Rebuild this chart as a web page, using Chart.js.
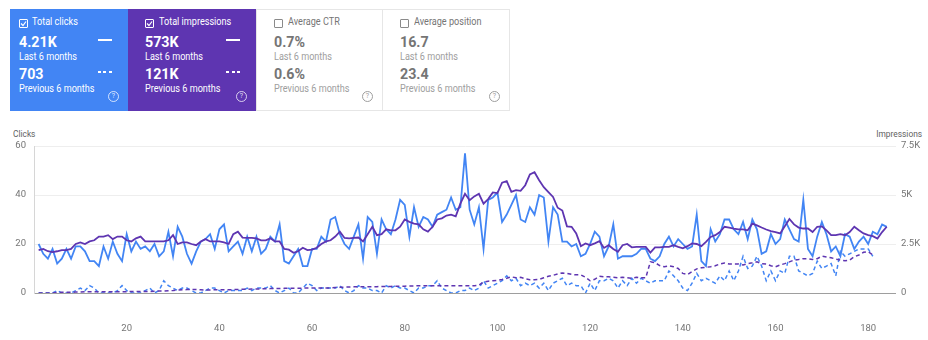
<!DOCTYPE html>
<html>
<head>
<meta charset="utf-8">
<script src="https://cdn.jsdelivr.net/npm/chart.js@4"></script>
<style>
    html, body { margin: 0; padding: 0; background: #fff; }
    body { width: 928px; height: 340px; position: relative; overflow: hidden; font-family: Roboto, "Noto Sans", sans-serif; }
    .card { position: absolute; top: 9px; height: 102px; box-sizing: border-box; }
    .card.off { background: #fff; border: 1px solid #e6e6e6; }
    .card > div { position: absolute; white-space: nowrap; }
    .cb { left: 9px; top: 10px; width: 7px; height: 7px; border: 1px solid #fff; border-radius: 1px; }
    .cb svg { position: absolute; left: 0; top: 0; }
    .off .cb { border-color: #8a8a8a; top: 9px; }
    .lbl { left: 22px; top: 7px; font-size: 10px; line-height: 12px; transform: scaleX(0.91); transform-origin: left center; }
    .val { left: 9px; font-size: 15px; line-height: 15px; font-weight: 700; transform: scaleX(0.95); transform-origin: left center; }
    .sub { left: 9px; font-size: 10px; line-height: 12px; transform: scaleX(0.91); transform-origin: left center; }
    .wide .cb { left: 17px; }
    .wide .lbl { left: 31px; }
    .wide .val, .wide .sub { left: 17px; }
    .off .lbl { top: 6px; }
    .off .val, .off .sub { margin-top: -1px; }
    .v1 { top: 26px; } .s1 { top: 42px; } .v2 { top: 58px; } .s2 { top: 74px; }
    .ln { right: 16px; width: 14px; height: 2px; }
    .ln.solid { top: 30px; background: #fff; }
    .ln.dash { top: 62px; background: repeating-linear-gradient(to right, #fff 0 3px, transparent 3px 5.5px); }
    .help { right: 9px; top: 82px; width: 9px; height: 9px; border: 1px solid rgba(255,255,255,0.75); border-radius: 50%;
            font-size: 7px; line-height: 9px; text-align: center; color: rgba(255,255,255,0.85); }
    .off .lbl { color: #757575; }
    .off .val { color: #757575; }
    .off .sub { color: #9e9e9e; }
    .off .help { border-color: #9e9e9e; color: #9e9e9e; top: 81px; }
    .on { color: #fff; }
    .axis-title { position: absolute; top: 128px; font-size: 9.5px; line-height: 11px; color: #616161; transform: scaleX(0.88); }
    #chartBox { position: absolute; left: 0; top: 120px; width: 928px; height: 220px; }
</style>
</head>
<body>
<div class="card on" style="left:10px;width:118px;background:#4285f4">
    <div class="cb"><svg width="7" height="7"><polyline points="1,3.5 3,5.5 6,1.5" fill="none" stroke="#fff" stroke-width="1.2"/></svg></div>
    <div class="lbl">Total clicks</div>
    <div class="val v1">4.21K</div>
    <div class="sub s1">Last 6 months</div>
    <div class="val v2">703</div>
    <div class="sub s2">Previous 6 months</div>
    <div class="ln solid"></div><div class="ln dash"></div>
    <div class="help">?</div>
</div>
<div class="card on wide" style="left:128px;width:128px;background:#5e35b1">
    <div class="cb"><svg width="7" height="7"><polyline points="1,3.5 3,5.5 6,1.5" fill="none" stroke="#fff" stroke-width="1.2"/></svg></div>
    <div class="lbl">Total impressions</div>
    <div class="val v1">573K</div>
    <div class="sub s1">Last 6 months</div>
    <div class="val v2">121K</div>
    <div class="sub s2">Previous 6 months</div>
    <div class="ln solid"></div><div class="ln dash"></div>
    <div class="help">?</div>
</div>
<div class="card off wide" style="left:256px;width:127px">
    <div class="cb"></div>
    <div class="lbl">Average CTR</div>
    <div class="val v1">0.7%</div>
    <div class="sub s1">Last 6 months</div>
    <div class="val v2">0.6%</div>
    <div class="sub s2">Previous 6 months</div>
    <div class="help">?</div>
</div>
<div class="card off wide" style="left:382px;width:128px">
    <div class="cb"></div>
    <div class="lbl">Average position</div>
    <div class="val v1">16.7</div>
    <div class="sub s1">Last 6 months</div>
    <div class="val v2">23.4</div>
    <div class="sub s2">Previous 6 months</div>
    <div class="help">?</div>
</div>

<div class="axis-title" style="left:13px;transform-origin:left center">Clicks</div>
<div class="axis-title" style="right:6px;transform-origin:right center">Impressions</div>

<div id="chartBox"><canvas id="perfChart"></canvas></div>

<script>
// Daily clicks, last 6 months (day 1..184)
const clicks = [
    20, 16, 14, 18, 12, 14, 18, 14, 19, 19, 17, 13, 13, 11, 19, 14, 21, 16, 13, 24,
    17, 21, 18, 19, 17, 20, 15, 17, 25, 15, 27, 23, 16, 12, 17, 21, 22, 24, 18, 26,
    28, 17, 19, 21, 16, 23, 17, 23, 16, 18, 23, 21, 28, 13, 12, 15, 18, 11, 11, 18,
    18, 23, 21, 30, 31, 24, 20, 18, 23, 28, 14, 31, 29, 16, 30, 26, 24, 30, 38, 36,
    23, 35, 27, 31, 30, 27, 32, 33, 34, 39, 34, 35, 57, 34, 28, 35, 18, 38, 39, 41,
    29, 32, 36, 40, 30, 29, 35, 32, 40, 39, 21, 35, 32, 21, 21, 19, 20, 15, 16, 20,
    25, 23, 15, 19, 28, 14, 15, 15, 15, 16, 18, 18, 14, 13, 15, 20, 23, 19, 22, 20,
    18, 19, 32, 13, 11, 26, 21, 24, 30, 30, 26, 24, 29, 22, 30, 26, 16, 17, 24, 20,
    22, 30, 26, 22, 21, 38, 18, 15, 23, 29, 24, 17, 19, 15, 24, 23, 18, 21, 23, 20,
    25, 24, 28, 27
];

// Daily impressions, last 6 months
const impressions = [
    2190, 2250, 2130, 2090, 2130, 2190, 2190, 2250, 2500, 2580, 2500, 2630, 2690, 2880, 2880, 2950, 2750, 2880, 2880, 2690,
    2630, 2790, 2880, 2630, 2630, 2630, 2630, 2630, 2690, 2950, 2500, 2580, 2580, 2500, 2440, 2630, 2750, 2630, 2630, 2630,
    2580, 2500, 3000, 3130, 2830, 2810, 2810, 2790, 2690, 2690, 2790, 2630, 2630, 2250, 2210, 2050, 2130, 2310, 2190, 2210,
    2310, 2500, 2630, 2690, 2880, 3130, 2810, 2790, 2810, 2830, 2630, 3000, 3380, 2950, 3000, 3250, 3200, 3200, 3380, 3750,
    3630, 3540, 3500, 3250, 3130, 3380, 3750, 3810, 3950, 4000, 3910, 4560, 5060, 4730, 4930, 5060, 4560, 4790, 5130, 5100,
    5630, 5710, 5160, 5250, 5210, 5500, 6050, 6160, 5750, 5400, 5150, 4900, 4350, 4210, 3400, 3380, 3040, 2390, 2530, 2440,
    2530, 2640, 2300, 2440, 2250, 2100, 2440, 2500, 2330, 2350, 2350, 2350, 2060, 2330, 2330, 2350, 2350, 2440, 2350, 2280,
    2390, 2530, 2500, 2390, 2610, 2860, 2950, 3110, 3380, 3340, 3290, 3250, 3250, 3200, 3540, 3450, 3340, 3240, 3160, 3110,
    3040, 3400, 3780, 3500, 3340, 3290, 3290, 3110, 3380, 3400, 3200, 2950, 2950, 3000, 2950, 3110, 3380, 3200, 3040, 2950,
    2900, 2780, 3110, 3380
];

// Daily clicks, previous 6 months (day 1..181)
const prevClicks = [
    0, 0, 0, 0, 1, 0, 0, 0, 1, 2, 1, 3, 2, 0, 0, 0, 0, 1, 3, 1,
    0, 0, 0, 1, 2, 0, 1, 5, 3, 2, 1, 2, 2, 1, 0, 0, 1, 2, 2, 1,
    0, 1, 1, 1, 1, 2, 1, 2, 2, 2, 3, 1, 0, 1, 2, 0, 0, 2, 4, 3,
    1, 2, 2, 2, 2, 3, 1, 0, 1, 3, 2, 2, 1, 1, 0, 3, 2, 3, 2, 2,
    1, 0, 2, 2, 3, 3, 5, 2, 1, 0, 0, 1, 1, 2, 1, 2, 5, 2, 3, 4,
    5, 7, 5, 6, 3, 4, 3, 4, 2, 4, 1, 4, 5, 6, 3, 4, 3, 3, 0, 4,
    1, 5, 5, 6, 5, 2, 5, 3, 6, 4, 6, 5, 4, 5, 5, 5, 9, 7, 5, 2,
    1, 4, 8, 5, 6, 5, 4, 7, 5, 9, 5, 9, 15, 10, 11, 15, 11, 5, 9, 5,
    9, 8, 15, 15, 9, 8, 7, 8, 13, 10, 11, 12, 7, 17, 15, 16, 17, 18, 18, 18,
    15
];

// Daily impressions, previous 6 months
const prevImpressions = [
    0, 0, 0, 0, 25, 38, 38, 38, 50, 50, 63, 63, 63, 63, 63, 63, 63, 63, 63, 63,
    75, 75, 75, 75, 75, 88, 100, 100, 113, 125, 150, 163, 175, 175, 175, 163, 150, 150, 163, 163,
    163, 163, 175, 175, 188, 188, 200, 200, 213, 213, 225, 225, 225, 238, 238, 238, 238, 250, 250, 250,
    250, 250, 250, 263, 275, 288, 300, 300, 313, 313, 313, 325, 325, 325, 338, 338, 338, 350, 350, 350,
    363, 363, 375, 375, 375, 375, 375, 375, 375, 375, 375, 375, 375, 375, 375, 400, 563, 600, 625, 650,
    688, 750, 825, 775, 800, 725, 675, 675, 700, 775, 850, 900, 975, 1025, 1000, 950, 925, 925, 800, 625,
    700, 850, 825, 825, 800, 775, 800, 775, 750, 800, 775, 775, 1590, 1550, 1400, 1340, 1390, 1340, 1250, 1000,
    940, 1090, 1230, 1290, 1310, 1340, 1390, 1480, 1530, 1480, 1480, 1480, 1430, 1500, 1540, 1590, 1500, 1480, 1390, 1340,
    1430, 1500, 1590, 1680, 1710, 1750, 1750, 1710, 1750, 1880, 1840, 1800, 1730, 1680, 1650, 1680, 1850, 1940, 2080, 2110,
    1940
];

const clickTicks = [0, 20, 40, 60];
const impressionTicks = [0, 2500, 5000, 7500];
const impressionTickLabels = ['0', '2.5K', '5K', '7.5K'];
const dayTicks = [20, 40, 60, 80, 100, 120, 140, 160, 180];

const BLUE = '#4285f4';
const PURPLE = '#5e35b1';
const TICK_FONT = { family: 'Roboto', size: 9.5 };

function toPoints(values) {
    return values.map((v, i) => ({ x: i + 1, y: v }));
}

new Chart(document.getElementById('perfChart'), {
    type: 'line',
    data: {
        datasets: [
            {
                label: 'Impressions',
                data: toPoints(impressions),
                yAxisID: 'y1',
                borderColor: PURPLE,
                borderWidth: 1.8
            },
            {
                label: 'Clicks',
                data: toPoints(clicks),
                yAxisID: 'y',
                borderColor: BLUE,
                borderWidth: 1.8
            },
            {
                label: 'Impressions (previous)',
                data: toPoints(prevImpressions),
                yAxisID: 'y1',
                borderColor: PURPLE,
                borderWidth: 1.5,
                borderDash: [4, 3]
            },
            {
                label: 'Clicks (previous)',
                data: toPoints(prevClicks),
                yAxisID: 'y',
                borderColor: BLUE,
                borderWidth: 1.5,
                borderDash: [4, 3]
            }
        ]
    },
    options: {
        responsive: true,
        maintainAspectRatio: false,
        animation: false,
        elements: {
            point: { radius: 0 },
            line: { tension: 0, fill: false }
        },
        layout: {
            padding: { top: 26, left: 0, right: 0, bottom: 0 }
        },
        plugins: {
            legend: { display: false },
            tooltip: { enabled: false }
        },
        scales: {
            x: {
                type: 'linear',
                min: 0,
                max: 186,
                afterFit: scale => { scale.height = 47; },
                afterBuildTicks: scale => { scale.ticks = dayTicks.map(v => ({ value: v })); },
                grid: { display: false },
                border: { display: false },
                ticks: {
                    autoSkip: false,
                    maxRotation: 0,
                    padding: 22,
                    color: '#757575',
                    font: TICK_FONT
                }
            },
            y: {
                position: 'left',
                min: 0,
                max: 60,
                afterFit: scale => { scale.width = 34; },
                afterBuildTicks: scale => { scale.ticks = clickTicks.map(v => ({ value: v })); },
                grid: {
                    drawTicks: false,
                    color: ctx => ctx.tick && ctx.tick.value === 0 ? '#9e9e9e' : '#eeeeee'
                },
                border: { display: true, color: '#d6d6d6' },
                ticks: {
                    padding: 8,
                    color: '#757575',
                    font: TICK_FONT
                }
            },
            y1: {
                position: 'right',
                min: 0,
                max: 7500,
                afterFit: scale => { scale.width = 32; },
                afterBuildTicks: scale => { scale.ticks = impressionTicks.map(v => ({ value: v })); },
                grid: { display: false, drawTicks: false },
                border: { display: false },
                ticks: {
                    padding: 5,
                    color: '#757575',
                    font: TICK_FONT,
                    callback: function (value) {
                        const idx = impressionTicks.indexOf(value);
                        return idx >= 0 ? impressionTickLabels[idx] : '';
                    }
                }
            }
        }
    }
});
</script>
</body>
</html>
